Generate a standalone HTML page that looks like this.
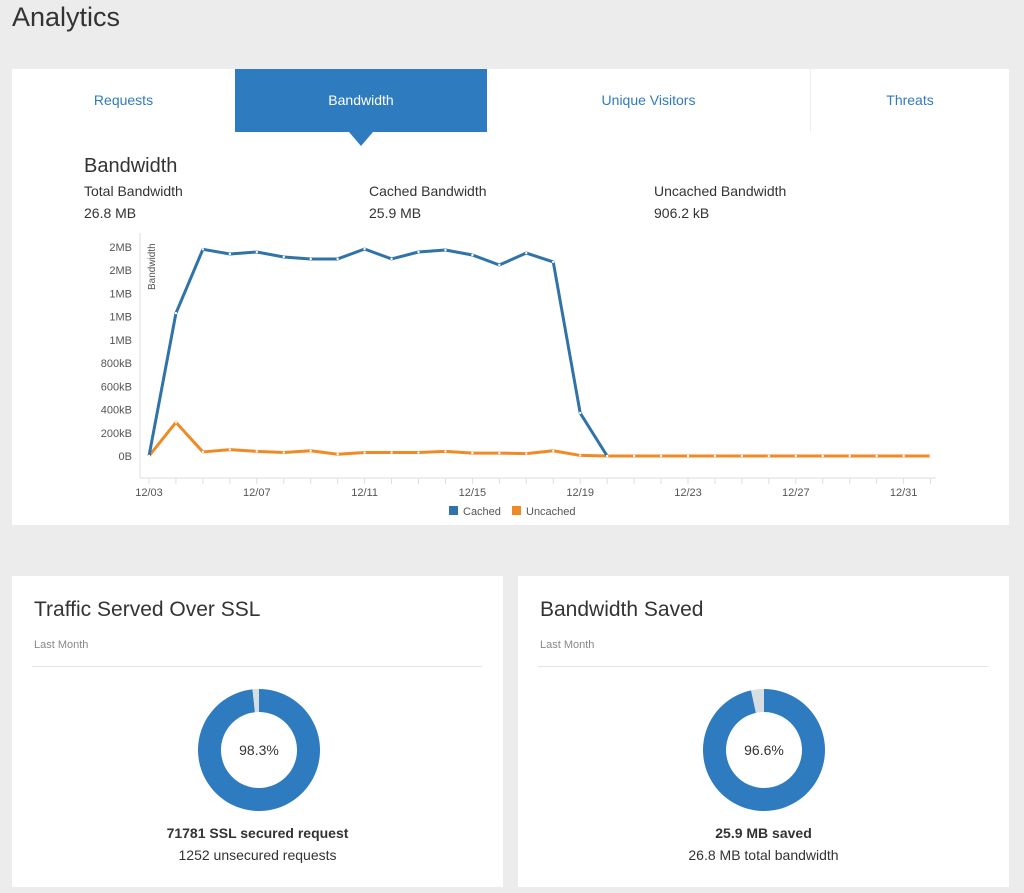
<!DOCTYPE html>
<html><head><meta charset="utf-8"><style>
body{margin:0;width:1024px;height:893px;background:#ececec;font-family:"Liberation Sans",sans-serif;position:relative;overflow:hidden;color:#333}
.abs{position:absolute}
.card{position:absolute;background:#fff}
.tab{position:absolute;top:0;height:63px;line-height:63px;text-align:center;font-size:14px;color:#2f7bbf}
.stat{position:absolute;font-size:14px;color:#333}
</style></head><body>
<div class="abs" style="left:12px;top:2px;font-size:27px;color:#333">Analytics</div>
<div class="card" style="left:12px;top:69px;width:997px;height:456px">
 <div class="tab" style="left:0;width:223px;border-right:1px solid #eee">Requests</div>
 <div class="tab" style="left:223px;width:252px;background:#2f7bbf;color:#fff">Bandwidth</div>
 <div class="abs" style="left:337px;top:63px;width:0;height:0;border-left:12px solid transparent;border-right:12px solid transparent;border-top:14px solid #2f7bbf"></div>
 <div class="tab" style="left:475px;width:323px;border-right:1px solid #eee">Unique Visitors</div>
 <div class="tab" style="left:799px;width:198px">Threats</div>
 <div class="abs" style="left:72px;top:86px;font-size:20px;color:#333">Bandwidth</div>
 <div class="stat" style="left:72px;top:114px">Total Bandwidth</div>
 <div class="stat" style="left:72px;top:136px">26.8 MB</div>
 <div class="stat" style="left:357px;top:114px">Cached Bandwidth</div>
 <div class="stat" style="left:357px;top:136px">25.9 MB</div>
 <div class="stat" style="left:642px;top:114px">Uncached Bandwidth</div>
 <div class="stat" style="left:642px;top:136px">906.2 kB</div>
</div>
<svg id="chart" class="abs" style="left:0;top:0" width="1024" height="530"></svg>

<div class="card" style="left:12px;top:576px;width:491px;height:311px">
 <div class="abs" style="left:22px;top:22px;font-size:21px;color:#333">Traffic Served Over SSL</div>
 <div class="abs" style="left:22px;top:63px;font-size:11px;color:#888">Last Month</div>
 <div class="abs" style="left:20px;top:90px;width:450px;height:1px;background:#e5e5e5"></div>
 <div class="abs" style="left:0;width:491px;top:249px;text-align:center;font-size:14px;font-weight:bold">71781 SSL secured request</div>
 <div class="abs" style="left:0;width:491px;top:271px;text-align:center;font-size:14px">1252 unsecured requests</div>
</div>
<div class="card" style="left:518px;top:576px;width:491px;height:311px">
 <div class="abs" style="left:22px;top:22px;font-size:21px;color:#333">Bandwidth Saved</div>
 <div class="abs" style="left:22px;top:63px;font-size:11px;color:#888">Last Month</div>
 <div class="abs" style="left:20px;top:90px;width:450px;height:1px;background:#e5e5e5"></div>
 <div class="abs" style="left:0;width:491px;top:249px;text-align:center;font-size:14px;font-weight:bold">25.9 MB saved</div>
 <div class="abs" style="left:0;width:491px;top:271px;text-align:center;font-size:14px">26.8 MB total bandwidth</div>
</div>
<svg id="donuts" class="abs" style="left:0;top:0" width="1024" height="893"></svg>

<script>
const dates = ["12/03","12/04","12/05","12/06","12/07","12/08","12/09","12/10","12/11","12/12","12/13","12/14","12/15","12/16","12/17","12/18","12/19","12/20","12/21","12/22","12/23","12/24","12/25","12/26","12/27","12/28","12/29","12/30","12/31","01/01"];
const cachedKB = [0,1230,1780,1740,1757,1714,1697,1697,1783,1697,1757,1774,1731,1645,1748,1671,370,0,0,0,0,0,0,0,0,0,0,0,0,0];
const uncachedKB = [0,290,35,55,40,30,45,15,30,30,30,40,25,25,20,45,5,0,0,0,0,0,0,0,0,0,0,0,0,0];
const yTicks = [0,200,400,600,800,1000,1200,1400,1600,1800];
const yTickLabels = ["0B","200kB","400kB","600kB","800kB","1MB","1MB","1MB","2MB","2MB"];
const xLabelIdx = [0,4,8,12,16,20,24,28];
const pieValues = [98.3, 96.6];
const pieLabels = ["98.3%","96.6%"];

const NS="http://www.w3.org/2000/svg";
function mk(p,t,a){const e=document.createElementNS(NS,t);for(const k in a)e.setAttribute(k,a[k]);p.appendChild(e);return e;}
const svg=document.getElementById('chart');
const x=i=>149+i*26.95;
const y=v=>456-v*(209/1800);
// axes
const ya=mk(svg,'line',{x1:140,y1:233,x2:140,y2:478,stroke:'#ddd'});


const xa=mk(svg,'line',{x1:140,y1:478,x2:936,y2:478,stroke:'#ddd'});


yTicks.forEach((v,i)=>{
 const t=mk(svg,'text',{x:132,y:y(v)+4,'text-anchor':'end','font-size':11,fill:'#555','font-family':'Liberation Sans'});
 t.textContent=yTickLabels[i];
 
 
});
const yt=mk(svg,'text',{transform:'translate(155,290) rotate(-90)','font-size':10,fill:'#555','font-family':'Liberation Sans'});
yt.textContent='Bandwidth';


dates.forEach((d,i)=>{
 mk(svg,'line',{x1:x(i),y1:478,x2:x(i),y2:484,stroke:'#ddd'});
});
xLabelIdx.forEach(i=>{
 const t=mk(svg,'text',{x:x(i),y:496,'text-anchor':'middle','font-size':11,fill:'#555','font-family':'Liberation Sans'});
 t.textContent=dates[i];
 
 
});
function series(vals,color,name,upto){
 const pts=vals.slice(0,upto).map((v,i)=>x(i)+','+y(v)).join(' ');
 const pl=mk(svg,'polyline',{points:pts,fill:'none',stroke:color,'stroke-width':3,'stroke-linejoin':'round'});
 
 
 vals.slice(0,upto).forEach((v,i)=>{
  const c=mk(svg,'circle',{cx:x(i),cy:y(v),r:1.2,fill:'#fff'});
  
  
 });
}
series(uncachedKB,'#f08a24','uncached',uncachedKB.length);
series(cachedKB,'#2f73a8','cached',18);
// legend
const l1=mk(svg,'rect',{x:449,y:506,width:9,height:9,fill:'#2f73a8'});


const lt1=mk(svg,'text',{x:463,y:515,'font-size':11,fill:'#555','font-family':'Liberation Sans'});
lt1.textContent='Cached';


const l2=mk(svg,'rect',{x:512,y:506,width:9,height:9,fill:'#f08a24'});


const lt2=mk(svg,'text',{x:526,y:515,'font-size':11,fill:'#555','font-family':'Liberation Sans'});
lt2.textContent='Uncached';



// donuts
const ds=document.getElementById('donuts');
const centers=[[259,750],[764,750]];
function arc(cx,cy,R,r,a0,a1){
 const p=(rad,a)=>[cx+rad*Math.sin(a),cy-rad*Math.cos(a)];
 const lg=(a1-a0)>Math.PI?1:0;
 const [x0,y0]=p(R,a0),[x1,y1]=p(R,a1),[x2,y2]=p(r,a1),[x3,y3]=p(r,a0);
 return `M${x0},${y0}A${R},${R} 0 ${lg} 1 ${x1},${y1}L${x2},${y2}A${r},${r} 0 ${lg} 0 ${x3},${y3}Z`;
}
pieValues.forEach((v,i)=>{
 const [cx,cy]=centers[i];
 const a=v/100*2*Math.PI;
 const s1=mk(ds,'path',{d:arc(cx,cy,61,38,0,a),fill:'#2f7bbf'});
 
 
 const s2=mk(ds,'path',{d:arc(cx,cy,61,38,a,2*Math.PI-0.0001),fill:'#d6dde3'});
 
 
 const t=mk(ds,'text',{x:cx,y:cy+5,'text-anchor':'middle','font-size':14,fill:'#333','font-family':'Liberation Sans'});
 t.textContent=pieLabels[i];
 
 
});
</script>
</body></html>
